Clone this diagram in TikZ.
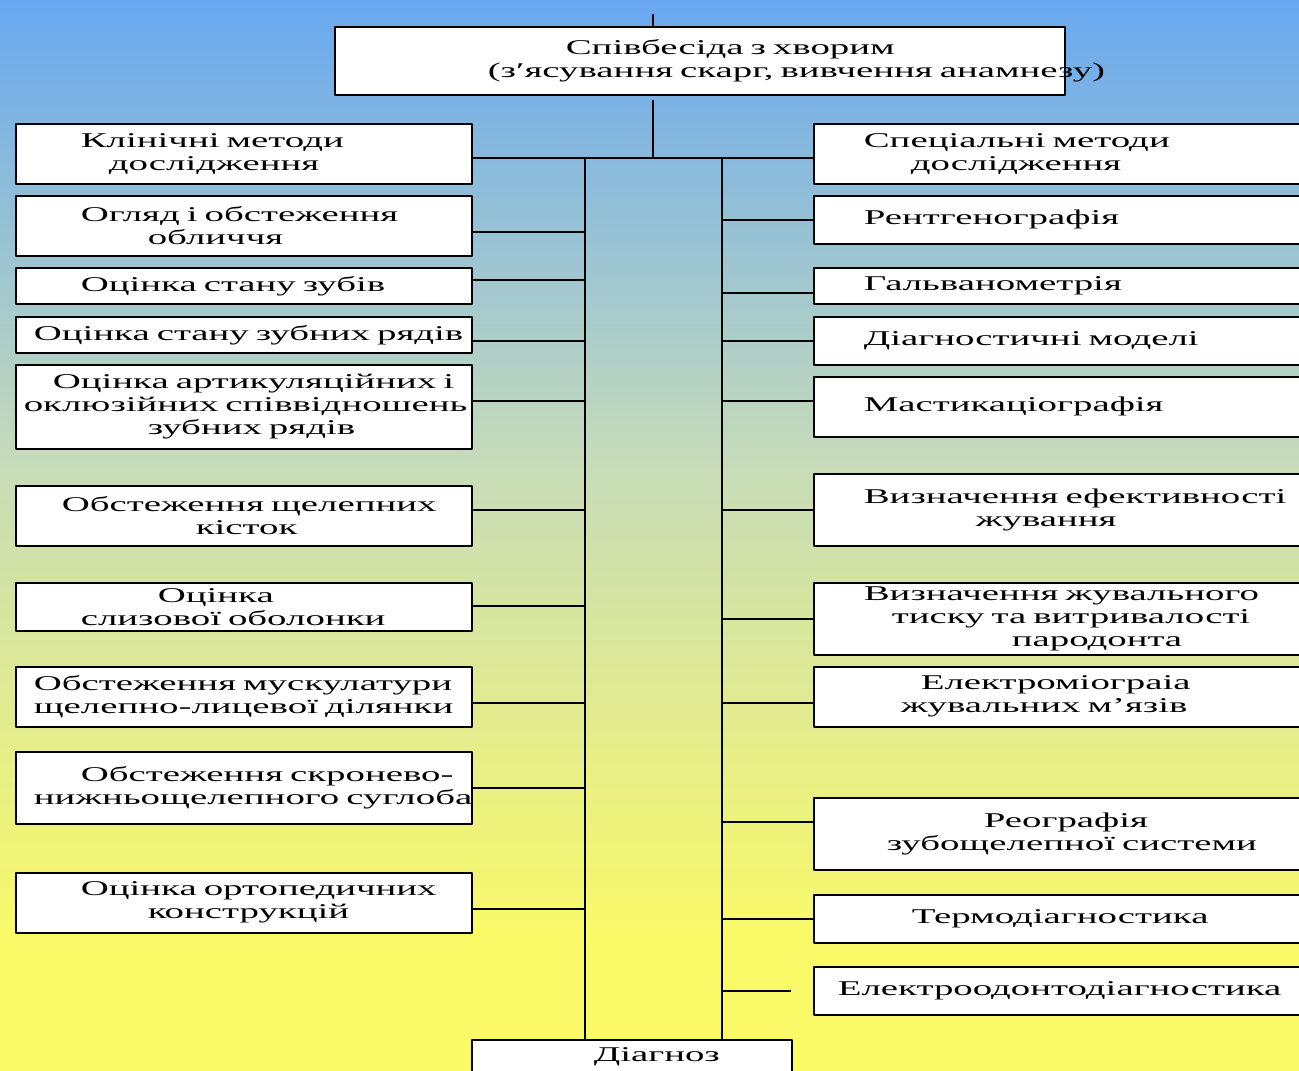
\documentclass[tikz,border=0pt]{standalone}
\usepackage{fontspec}
\setmainfont{Liberation Serif}[FakeStretch=1.85]
\setlength{\parindent}{0pt}
\definecolor{bgblue}{RGB}{104,168,240}
\definecolor{bgmid}{RGB}{200,220,184}
\definecolor{bgyellow}{RGB}{250,250,104}
% path is mapped onto 25bp..75bp of the shading
\pgfdeclareverticalshading{bgshade}{100bp}{color(0bp)=(bgyellow); color(31bp)=(bgyellow); color(53bp)=(bgmid); color(75bp)=(bgblue); color(100bp)=(bgblue)}
% one unbreakable line, moved right by #1 pt
\newcommand{\lline}[2]{\hspace*{#1pt}\mbox{#2}}
\begin{document}
\begin{tikzpicture}[x=1pt,y=-1pt,line join=round]
    \tikzset{every node/.style={font=\fontsize{21}{23}\selectfont},
        lbox/.style={draw=black,fill=white,line width=1.6pt,anchor=north west,
            text width=440pt,inner xsep=8pt,inner ysep=0pt,align=left},
        rbox/.style={lbox,text width=459pt,inner xsep=24pt},
        link/.style={line width=1.6pt,draw=black}}
    \useasboundingbox (0,0) rectangle (1299,1071);
    \fill[shading=bgshade] (0,0) rectangle (1299,1071);
    % top and bottom
    \node[lbox,text width=424pt,inner xsep=153pt,minimum height=68pt] (top) at (334,26)
        {\lline{78}{Співбесіда з хворим}\\\lline{0}{(з′ясування скарг, вивчення анамнезу)}};
    \node[lbox,text width=280pt,inner xsep=20pt,minimum height=34pt] (diag) at (471,1039)
        {\lline{102}{Діагноз}};
    % clinical methods
    \foreach \nm/\y/\h/\txt in {
        k1/123/60/{\lline{57}{Клінічні методи}\\\lline{85}{дослідження}},
        k2/195/60/{\lline{57}{Огляд і обстеження}\\\lline{124}{обличчя}},
        k3/267/36/{\lline{57}{Оцінка стану зубів}},
        k4/316/36/{\lline{10}{Оцінка стану зубних рядів}},
        k5/364/84/{\lline{29}{Оцінка артикуляційних і}\\\lline{0}{оклюзійних співвідношень}\\\lline{124}{зубних рядів}},
        k6/485/60/{\lline{38}{Обстеження щелепних}\\\lline{172}{кісток}},
        k7/582/48/{\lline{134}{Оцінка}\\\lline{57}{слизової оболонки}},
        k8/666/60/{\lline{10}{Обстеження мускулатури}\\\lline{10}{щелепно-лицевої ділянки}},
        k9/751/72/{\lline{57}{Обстеження скронево-}\\\lline{10}{нижньощелепного суглоба}},
        k10/872/60/{\lline{57}{Оцінка ортопедичних}\\\lline{124}{конструкцій}}}
        \node[lbox,minimum height=\h pt] (\nm) at (15,\y) {\txt};
    % special methods
    \foreach \nm/\y/\h/\txt in {
        s1/123/60/{\lline{26}{Спеціальні методи}\\\lline{73}{дослідження}},
        s2/195/48/{\lline{26}{Рентгенографія}},
        s3/267/36/{\lline{26}{Гальванометрія}},
        s4/316/48/{\lline{26}{Діагностичні моделі}},
        s5/376/60/{\lline{26}{Мастикаціографія}},
        s6/473/72/{\lline{26}{Визначення ефективності}\\\lline{138}{жування}},
        s7/582/72/{\lline{26}{Визначення жувального}\\\lline{54}{тиску та витривалості}\\\lline{174}{пародонта}},
        s8/666/60/{\lline{83}{Електроміограіа}\\\lline{63}{жувальних м’язів}},
        s9/797/72/{\lline{146}{Реографія}\\\lline{49}{зубощелепної системи}},
        s10/894/48/{\lline{74}{Термодіагностика}},
        s11/966/48/{\lline{0}{Електроодонтодіагностика}}}
        \node[rbox,minimum height=\h pt] (\nm) at (813,\y) {\txt};
    % trunk lines
    \coordinate (stub) at (653,14);
    \coordinate (hub) at (653,158);
    \coordinate (tl) at (585,158);
    \coordinate (tr) at (722,158);
    \draw[link] (stub) -- (stub |- top.north);
    \draw[link] ([yshift=-4pt]top.south -| hub) -- (hub);
    \draw[link] (k1.east |- hub) -- (s1.west |- hub);
    \draw[link] (tl) -- (tl |- diag.north);
    \draw[link] (tr) -- (tr |- diag.north);
    % branches (shift up in pt)
    \foreach \nm/\d in {k2/-6,k3/6,k4/-6,k5/6,k6/6,k7/1,k8/-6,k9/0,k10/-6}
        \draw[link] ([yshift=\d pt]\nm.east) -- ([yshift=\d pt]\nm.east -| tl);
    \foreach \nm/\d in {s2/0,s3/-7,s4/0,s5/6,s6/0,s7/0,s8/-6,s9/12,s10/0}
        \draw[link] ([yshift=\d pt]\nm.west -| tr) -- ([yshift=\d pt]\nm.west);
    \draw[link] (tr |- s11.west) -- ([xshift=-22pt]s11.west);
\end{tikzpicture}
\end{document}
